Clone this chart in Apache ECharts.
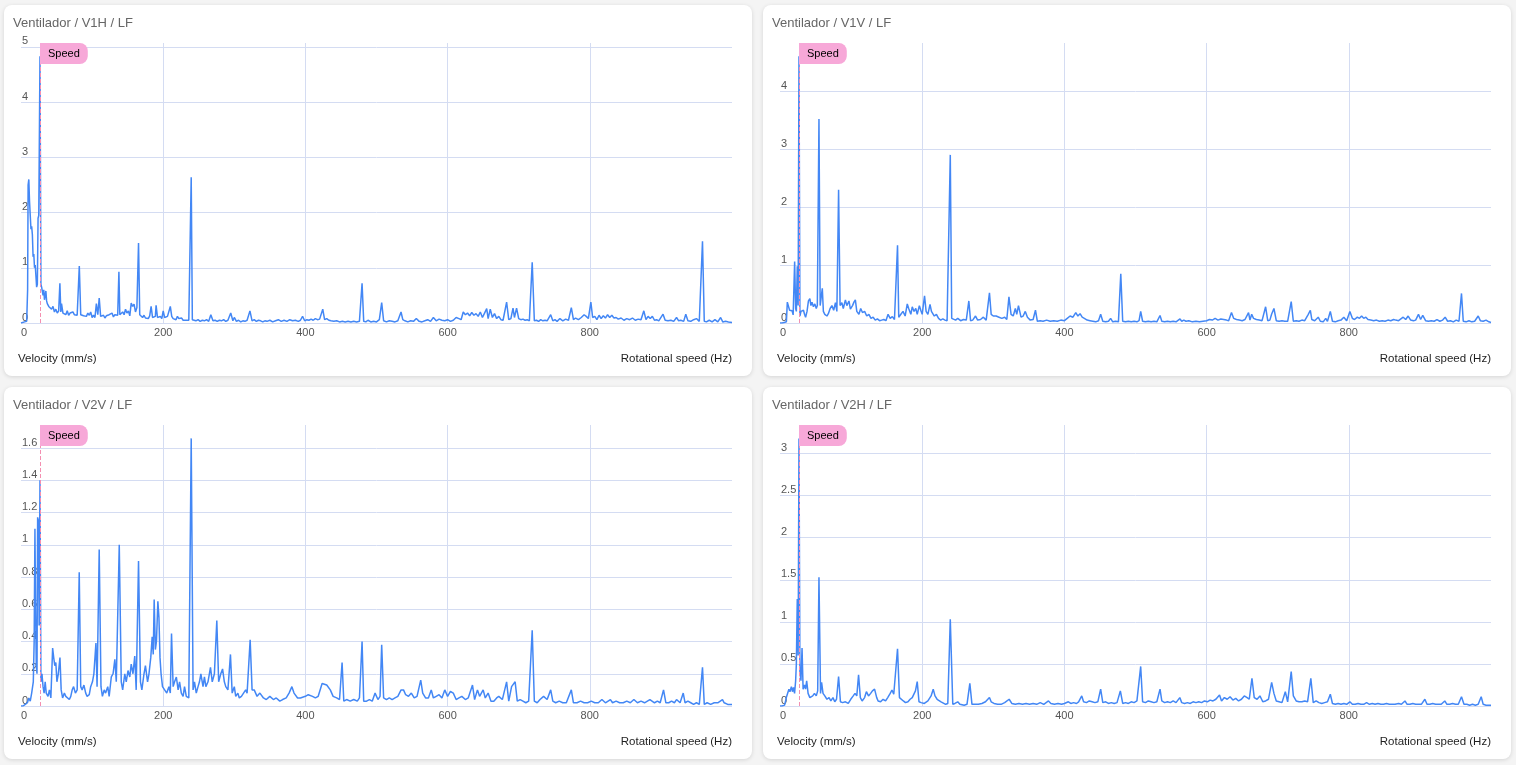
<!DOCTYPE html>
<html>
<head>
    <meta http-equiv="Content-Type" content="text/html; charset=utf-8"/>
    <title>Ventilador LF</title>
    <script type="text/javascript" src="https://cdn.jsdelivr.net/npm/echarts@6.0.0/dist/echarts.min.js"></script>
    <style>
        html, body {
            margin: 0;
            padding: 0;
            background: #f4f4f4;
            width: 1516px;
            height: 765px;
            overflow: hidden;
        }

        .card {
            position: absolute;
            width: 748px;
            background: #fff;
            border-radius: 8px;
            box-shadow: 0 1px 4px rgba(0, 0, 0, 0.13);
        }

        .card .chart {
            width: 100%;
            height: 100%;
        }
    </style>
</head>

<body>
<div class="card" style="left:4px;top:5px;height:371px;"><div class="chart" id="c1"></div></div>
<div class="card" style="left:763px;top:5px;height:371px;"><div class="chart" id="c2"></div></div>
<div class="card" style="left:4px;top:387px;height:372px;"><div class="chart" id="c3"></div></div>
<div class="card" style="left:763px;top:387px;height:372px;"><div class="chart" id="c4"></div></div>

<script type="text/javascript">
    // chart data: [Hz, mm/s]
    var panelTitles = ['Ventilador / V1H / LF', 'Ventilador / V1V / LF', 'Ventilador / V2V / LF', 'Ventilador / V2H / LF'];
    var yIntervals = [1, 1, 0.2, 0.5];
    var speedHz = 26.7;
    var xTicks = [0, 200, 400, 600, 800, 1000];

    var v1h = [[0,0],[2,0.01],[5,0.02],[8,0.03],[9.3,0.6],[10,2.5],[11,2.6],[12,2.2],[13,1.95],[14,1.7],[15,1.75],[16,1.6],[17,1.2],[18,1.25],[19,1.0],[20,1.05],[21,0.85],[22,0.65],[23,0.7],[24,1.9],[25,1.95],[26.7,4.83],[28,0.7],[29,0.65],[30,0.68],[31,0.5],[32,0.6],[33,0.42],[34,0.5],[35,0.58],[36,0.4],[37,0.35],[39,0.3],[41,0.28],[43,0.25],[45,0.3],[47,0.2],[49,0.25],[51,0.18],[53,0.22],[54.7,0.72],[56,0.2],[57,0.35],[59,0.18],[61,0.2],[63,0.15],[65,0.22],[67,0.14],[69,0.18],[71,0.16],[73,0.2],[75,0.15],[77,0.17],[79,0.14],[82,1.03],[84,0.15],[86,0.18],[88,0.13],[90,0.16],[92,0.12],[94,0.18],[96,0.14],[98,0.2],[100,0.1],[102,0.14],[104,0.1],[106,0.35],[108,0.15],[110,0.45],[112,0.12],[114,0.1],[116,0.14],[118,0.09],[120,0.13],[122,0.1],[124,0.15],[126,0.12],[128,0.18],[130,0.11],[132,0.15],[134,0.12],[136,0.14],[137.7,0.93],[139,0.15],[141,0.12],[143,0.2],[145,0.15],[147,0.25],[149,0.18],[151,0.22],[153,0.13],[155,0.36],[157,0.3],[159,0.34],[161,0.2],[163,0.28],[165.3,1.45],[167,0.15],[169,0.12],[171,0.1],[173,0.14],[175,0.09],[177,0.12],[179,0.08],[181,0.13],[183,0.3],[185,0.1],[187,0.08],[189,0.12],[190,0.32],[192,0.1],[194,0.09],[196,0.12],[198,0.08],[200,0.22],[202,0.1],[204,0.07],[206,0.12],[208,0.15],[210,0.3],[212,0.12],[214,0.08],[216,0.1],[218,0.06],[220,0.12],[222,0.08],[224,0.06],[226,0.09],[228,0.05],[230,0.07],[232,0.05],[234,0.06],[236,0.05],[239.4,2.64],[241,0.06],[243,0.08],[246,0.04],[249,0.06],[252,0.03],[255,0.05],[258,0.04],[261,0.06],[264,0.03],[267,0.15],[270,0.04],[273,0.05],[276,0.03],[279,0.05],[282,0.04],[285,0.06],[288,0.03],[291,0.05],[295,0.18],[298,0.04],[300,0.1],[303,0.03],[306,0.05],[309,0.02],[312,0.04],[315,0.03],[318,0.05],[322,0.22],[325,0.04],[328,0.06],[331,0.03],[334,0.05],[337,0.04],[340,0.02],[343,0.04],[346,0.03],[350,0.05],[354,0.02],[358,0.04],[362,0.06],[366,0.03],[370,0.05],[374,0.03],[378,0.06],[382,0.04],[386,0.05],[390,0.03],[393,0.05],[396,0.12],[399,0.04],[402,0.06],[405,0.05],[408,0.07],[411,0.05],[414,0.08],[417,0.06],[420,0.07],[424.4,0.25],[427,0.06],[430,0.08],[433,0.05],[436,0.04],[440,0.03],[444,0.04],[448,0.02],[452,0.03],[456,0.02],[460,0.03],[464,0.02],[468,0.03],[472,0.02],[476,0.03],[479.7,0.72],[482,0.03],[485,0.02],[488,0.05],[492,0.02],[496,0.03],[500,0.02],[504,0.06],[507.3,0.37],[510,0.04],[514,0.02],[518,0.04],[522,0.03],[526,0.02],[530,0.04],[534.5,0.2],[537,0.06],[540,0.04],[544,0.02],[548,0.04],[552,0.03],[556,0.08],[560,0.03],[564,0.02],[568,0.04],[572,0.06],[576,0.03],[580,0.1],[584,0.04],[588,0.07],[592,0.05],[596,0.04],[600,0.06],[604,0.03],[608,0.05],[612,0.1],[616,0.08],[619,0.06],[622,0.2],[625,0.15],[628,0.18],[631,0.13],[634,0.19],[637,0.14],[640,0.17],[643,0.12],[646,0.2],[649,0.1],[652,0.18],[655,0.26],[657,0.08],[660,0.25],[663,0.1],[666,0.17],[669,0.08],[672,0.12],[675,0.06],[678,0.05],[683,0.38],[686,0.06],[689,0.08],[692,0.27],[694,0.1],[697,0.27],[700,0.08],[703,0.06],[706,0.07],[709,0.05],[712,0.06],[715,0.04],[719,1.1],[722,0.04],[725,0.05],[728,0.03],[731,0.06],[734,0.04],[737,0.05],[740,0.04],[745,0.15],[748,0.04],[751,0.06],[754,0.03],[758,0.08],[762,0.04],[766,0.07],[770,0.05],[774,0.28],[777,0.06],[780,0.09],[784,0.06],[788,0.1],[792,0.15],[795,0.12],[798,0.08],[801.5,0.38],[804,0.1],[807,0.12],[810,0.06],[813,0.14],[816,0.08],[819,0.13],[822,0.09],[825,0.15],[828,0.1],[831,0.14],[834,0.09],[837,0.1],[840,0.07],[844,0.09],[848,0.05],[852,0.08],[856,0.06],[860,0.09],[864,0.05],[868,0.07],[872,0.06],[876,0.22],[879,0.06],[882,0.12],[885,0.08],[888,0.12],[891,0.05],[894,0.06],[897,0.04],[903,0.16],[906,0.05],[910,0.04],[914,0.05],[918,0.03],[922,0.1],[925,0.04],[928,0.05],[932,0.03],[935,0.16],[938,0.04],[942,0.03],[946,0.06],[950,0.08],[954,0.03],[958.5,1.48],[961,0.03],[964,0.02],[968,0.05],[972,0.02],[976,0.06],[980,0.02],[984,0.1],[987,0.02],[991,0.03],[995,0.02],[1000,0.01]];

    var v1v = [[0,0],[3,0],[6,0.01],[9,0.02],[10.3,0.36],[12,0.33],[13.5,0.22],[15,0.2],[17,0.21],[18.5,0.14],[20.6,1.06],[22,0.25],[23,0.2],[24.3,0.98],[25.5,0.3],[26.7,4.6],[28,0.12],[29.5,0.2],[31,0.17],[33,0.22],[34.5,0.15],[36,0.1],[38,0.2],[40,0.38],[42,0.42],[43.5,0.3],[45,0.36],[47,0.28],[49,0.33],[51,0.25],[52.5,0.3],[54.8,3.52],[56.5,0.3],[58,0.45],[59.5,0.6],[61,0.2],[63,0.15],[66,0.12],[68,0.16],[70.5,0.25],[73,0.3],[75.5,0.22],[78,0.35],[80,0.2],[82.4,2.3],[84.5,0.3],[87,0.35],[89,0.25],[92,0.4],[94,0.3],[97,0.38],[99,0.24],[102,0.3],[104,0.36],[106,0.4],[108,0.2],[111,0.15],[113.5,0.25],[116,0.18],[119,0.2],[122,0.12],[125,0.15],[128,0.08],[131,0.1],[134,0.05],[137,0.07],[140,0.04],[143,0.05],[146,0.06],[149,0.04],[152,0.15],[155,0.08],[158,0.11],[161,0.06],[163,0.08],[165.3,1.34],[167,0.1],[170,0.15],[173,0.2],[176,0.12],[179,0.33],[181,0.25],[184,0.15],[186,0.28],[188.5,0.2],[191,0.25],[193,0.15],[196,0.3],[198,0.22],[200,0.15],[203.3,0.47],[205.5,0.2],[208,0.15],[211,0.32],[213,0.2],[217,0.12],[220,0.15],[223,0.08],[226,0.05],[229,0.07],[232,0.05],[235,0.04],[237,0.06],[239.5,2.9],[241.5,0.08],[244,0.1],[247,0.05],[250,0.08],[254,0.04],[258,0.06],[262,0.05],[265.6,0.38],[268,0.04],[271,0.05],[275,0.12],[278,0.05],[282,0.06],[286,0.1],[290,0.05],[294.6,0.52],[297,0.15],[300,0.12],[304,0.12],[308,0.1],[312,0.08],[316,0.1],[319,0.06],[322,0.45],[325,0.15],[328,0.12],[331,0.25],[333,0.15],[335.4,0.3],[339,0.1],[342,0.12],[345,0.2],[348,0.1],[352,0.05],[356,0.06],[359.3,0.22],[362,0.03],[366,0.04],[370,0.03],[375,0.05],[380,0.03],[385,0.04],[390,0.03],[395,0.05],[400,0.04],[404,0.08],[408,0.12],[412,0.1],[416,0.18],[419,0.12],[422,0.16],[425,0.1],[428,0.08],[432,0.05],[436,0.04],[440,0.03],[444,0.02],[448,0.04],[451,0.15],[454,0.03],[458,0.02],[462,0.03],[465,0.08],[468,0.02],[472,0.03],[476,0.02],[479.3,0.85],[482,0.03],[486,0.02],[490,0.03],[494,0.02],[498,0.03],[502,0.02],[505,0.04],[507.3,0.2],[510,0.03],[514,0.02],[518,0.03],[522,0.02],[526,0.03],[530,0.02],[534.5,0.13],[537,0.03],[541,0.02],[545,0.03],[549,0.02],[553,0.03],[557,0.02],[562.6,0.07],[565,0.03],[568,0.05],[571,0.03],[575,0.04],[580,0.02],[585,0.03],[590,0.02],[595,0.03],[600,0.04],[604,0.06],[608,0.05],[612,0.08],[616,0.05],[620,0.07],[624,0.06],[628,0.05],[631,0.04],[635,0.18],[638,0.08],[642,0.06],[646,0.05],[650,0.04],[654,0.06],[659,0.18],[661,0.05],[663.4,0.15],[666,0.08],[670,0.06],[674,0.05],[678,0.04],[683,0.28],[686,0.04],[689,0.05],[691.4,0.15],[694.7,0.25],[698,0.04],[702,0.03],[706,0.04],[710,0.03],[714,0.03],[719,0.37],[722,0.03],[726,0.04],[730,0.03],[734,0.05],[738,0.04],[743,0.15],[745.9,0.22],[748,0.06],[752,0.04],[757,0.1],[760,0.03],[764,0.02],[767.5,0.08],[770,0.03],[774,0.2],[777,0.03],[781,0.02],[785,0.04],[789,0.05],[793,0.1],[797,0.04],[801.5,0.2],[805,0.08],[808,0.06],[812,0.1],[815,0.08],[818,0.12],[821,0.08],[824,0.1],[827,0.06],[831,0.05],[835,0.04],[839,0.05],[843,0.03],[847,0.04],[851,0.03],[855,0.05],[859,0.04],[863,0.06],[866,0.05],[870,0.04],[876.5,0.1],[880,0.06],[883.5,0.12],[887,0.05],[891,0.04],[894,0.05],[898,0.15],[901,0.06],[904,0.13],[908,0.04],[912,0.03],[916,0.04],[920,0.03],[924,0.06],[928,0.03],[932,0.05],[935.5,0.1],[939,0.03],[943,0.04],[947,0.02],[951,0.05],[955,0.03],[958.5,0.51],[961,0.03],[965,0.02],[969,0.04],[973,0.02],[977,0.03],[982,0.12],[985,0.04],[989,0.03],[993,0.05],[997,0.02],[1000,0.01]];

    var v2v = [[0,0],[3,0],[6,0.01],[9,0.02],[11,0.05],[13,0.03],[15,0.08],[17.3,0.15],[18.5,0.4],[19.6,1.1],[20.5,0.6],[21.5,0.25],[22.5,0.2],[23.4,1.17],[24.5,1.15],[25.5,0.5],[26.7,1.4],[28,0.15],[29.5,0.2],[31,0.12],[32.5,0.08],[34,0.15],[35.5,0.08],[38,0.06],[40,0.1],[42,0.05],[44.5,0.36],[46,0.3],[47.5,0.25],[49,0.27],[50.5,0.15],[52.5,0.2],[54.8,0.3],[56.5,0.1],[58.5,0.05],[61,0.08],[63,0.06],[65,0.05],[68,0.04],[70,0.06],[72,0.1],[74,0.12],[76.5,0.08],[79,0.1],[81.9,0.83],[84,0.12],[86,0.1],[88.5,0.13],[91,0.08],[93,0.06],[96,0.07],[98,0.12],[100.5,0.15],[102.5,0.2],[105.4,0.39],[107,0.12],[110,0.97],[112.5,0.12],[114.5,0.06],[117,0.1],[119,0.08],[122,0.12],[124,0.06],[127,0.18],[129.5,0.2],[132,0.29],[134,0.15],[138.2,1.0],[141,0.15],[143,0.1],[146,0.2],[148,0.15],[150.5,0.22],[153,0.18],[155,0.26],[157.5,0.2],[160,0.31],[162,0.1],[165.3,0.9],[168,0.15],[170,0.1],[173,0.2],[175,0.25],[178,0.15],[180,0.2],[182.5,0.3],[184.5,0.43],[186,0.32],[187.3,0.66],[189,0.35],[190.5,0.4],[192.5,0.65],[194,0.55],[195.5,0.3],[197,0.2],[199,0.12],[202,0.1],[205,0.08],[208,0.12],[210,0.08],[211.7,0.45],[214,0.12],[216,0.15],[218.5,0.18],[221,0.1],[223,0.15],[225.5,0.08],[228,0.06],[230,0.12],[232.5,0.06],[236,0.05],[239.4,1.66],[242,0.1],[244,0.15],[246.5,0.08],[249,0.12],[251,0.15],[253,0.2],[256,0.12],[258,0.18],[260,0.12],[263,0.15],[266.5,0.24],[269,0.15],[272,0.2],[275.4,0.53],[278,0.15],[281,0.2],[283.5,0.23],[286,0.15],[288,0.12],[291,0.1],[294.6,0.32],[297,0.08],[300,0.12],[302,0.06],[305,0.08],[307,0.05],[310,0.06],[313,0.08],[316,0.1],[318,0.08],[322.3,0.41],[325,0.1],[328,0.1],[332,0.06],[336,0.08],[341,0.05],[345,0.04],[350,0.06],[355,0.04],[359,0.05],[364,0.03],[368,0.04],[373,0.05],[377,0.08],[381,0.12],[384,0.08],[389,0.05],[393,0.05],[400,0.06],[404,0.07],[410,0.06],[414,0.05],[418,0.06],[423.5,0.14],[426,0.13],[430,0.13],[435,0.1],[439,0.06],[444,0.05],[448,0.04],[451.6,0.27],[454,0.03],[458,0.04],[463,0.03],[468,0.04],[473,0.03],[476,0.05],[479.7,0.4],[482,0.03],[486,0.03],[490,0.04],[494,0.03],[498,0.08],[502,0.04],[505,0.06],[507.3,0.38],[510,0.05],[514,0.04],[518,0.05],[522,0.04],[526,0.05],[530,0.06],[534.6,0.1],[538,0.1],[541,0.07],[545,0.06],[549,0.08],[553,0.05],[557,0.06],[562.2,0.16],[565,0.08],[569,0.05],[573,0.05],[577,0.1],[580,0.05],[584,0.06],[588,0.07],[592,0.05],[596,0.1],[600,0.06],[604,0.09],[608,0.08],[612,0.04],[616,0.05],[620,0.06],[625,0.04],[629,0.05],[635,0.13],[638,0.04],[642,0.1],[645,0.06],[650,0.1],[653,0.05],[657,0.08],[661,0.03],[665,0.03],[669,0.05],[672,0.06],[677,0.04],[683,0.15],[686,0.03],[690,0.12],[695,0.15],[698,0.03],[702,0.04],[706,0.03],[710,0.02],[714,0.03],[719,0.47],[722,0.03],[726,0.02],[730,0.04],[735,0.06],[740,0.04],[745,0.1],[748,0.03],[752,0.02],[757,0.03],[762,0.02],[767,0.02],[774,0.1],[777,0.02],[782,0.02],[787,0.03],[792,0.02],[797,0.02],[802,0.03],[807,0.02],[812,0.02],[817,0.04],[822,0.02],[829,0.04],[832,0.02],[837,0.03],[842,0.02],[847,0.02],[852,0.03],[857,0.02],[862,0.04],[867,0.02],[872,0.03],[877,0.02],[884.5,0.04],[887,0.03],[891,0.02],[895,0.03],[899,0.02],[903.7,0.1],[907,0.02],[911,0.02],[915,0.03],[919,0.02],[922,0.04],[927,0.02],[931.4,0.08],[934,0.02],[938,0.03],[942,0.02],[946,0.01],[950,0.02],[954,0.01],[958.5,0.24],[961,0.01],[965,0.02],[970,0.01],[975,0.02],[980,0.02],[986.6,0.04],[989,0.02],[994,0.01],[1000,0.01]];

    var v2h = [[0,0],[3,0],[6.5,0.01],[8.9,0.1],[10.5,0.08],[12.5,0.2],[14,0.17],[16,0.23],[17.5,0.17],[19,0.22],[20.5,0.15],[22,0.3],[23,0.5],[24.3,1.27],[25.5,0.6],[26.7,3.18],[28,0.4],[29.5,0.3],[31,0.69],[32.5,0.2],[34.5,0.25],[36,0.2],[37.5,0.3],[39.5,0.15],[42,0.1],[44,0.08],[46,0.12],[48.5,0.15],[51,0.12],[53,0.18],[54.8,1.53],[57,0.15],[58.5,0.28],[60.5,0.15],[63,0.12],[66,0.08],[69,0.1],[71.5,0.06],[74.5,0.1],[77,0.05],[79.5,0.08],[82.4,0.35],[85,0.05],[88,0.04],[92,0.05],[96,0.03],[99.5,0.08],[103,0.12],[105.5,0.15],[108,0.12],[110.5,0.37],[113,0.1],[115.5,0.06],[119,0.1],[121.5,0.17],[124.5,0.12],[127.5,0.15],[130,0.18],[133,0.2],[136,0.1],[138,0.06],[141.5,0.05],[145,0.08],[148.5,0.06],[151.5,0.1],[155,0.15],[157.5,0.19],[160,0.14],[162.5,0.16],[165.3,0.68],[168,0.1],[170.5,0.08],[173.5,0.06],[176.5,0.04],[180,0.05],[183,0.08],[186,0.1],[188.5,0.12],[190.5,0.18],[193,0.29],[195.5,0.05],[198.5,0.04],[203,0.03],[208,0.06],[212.5,0.12],[215.5,0.2],[218,0.12],[221,0.08],[223.5,0.1],[226.5,0.05],[229,0.03],[233,0.02],[236,0.03],[239.5,1.03],[243,0.02],[246,0.03],[250,0.05],[253,0.02],[259,0.01],[263,0.02],[267,0.27],[270,0.02],[274,0.02],[279,0.02],[284,0.03],[289,0.05],[294.6,0.1],[297,0.05],[301,0.03],[306,0.02],[311,0.02],[316,0.04],[322.3,0.08],[326,0.03],[331,0.02],[336,0.03],[341,0.02],[346,0.03],[351,0.02],[356,0.03],[361,0.02],[366,0.04],[371,0.02],[377.6,0.06],[381,0.03],[386,0.02],[391,0.03],[396,0.02],[400,0.03],[405.6,0.05],[409,0.03],[413,0.04],[417,0.03],[420,0.05],[424.4,0.12],[427,0.05],[431,0.04],[435,0.06],[439,0.05],[443,0.04],[447,0.05],[451,0.2],[454,0.04],[458,0.05],[462,0.03],[466,0.04],[470,0.03],[474,0.04],[478.7,0.18],[482,0.03],[486,0.04],[490,0.03],[494,0.05],[498,0.04],[502,0.06],[507.3,0.47],[510,0.05],[514,0.04],[518,0.06],[522,0.05],[526,0.04],[530,0.05],[534.5,0.2],[537,0.06],[541,0.04],[545,0.05],[549,0.04],[553,0.06],[557,0.04],[562.3,0.1],[565,0.04],[569,0.03],[573,0.04],[577,0.03],[581,0.05],[585,0.04],[589,0.05],[593,0.04],[597,0.06],[601,0.05],[605,0.07],[609,0.06],[613,0.08],[618.2,0.13],[621,0.06],[625,0.1],[629,0.08],[633,0.11],[637,0.07],[641,0.09],[645,0.06],[649,0.08],[653,0.12],[657,0.1],[660,0.08],[663.8,0.33],[667,0.1],[671,0.08],[675,0.12],[679,0.05],[683,0.06],[687,0.08],[691.5,0.28],[694.7,0.15],[698,0.06],[702,0.05],[706,0.04],[710.7,0.17],[714,0.05],[719,0.41],[722,0.12],[726,0.06],[730,0.05],[734,0.05],[738,0.06],[742,0.05],[746.6,0.33],[750,0.04],[754,0.06],[758,0.04],[762,0.03],[766,0.04],[770,0.05],[774,0.14],[777,0.03],[781,0.02],[785,0.03],[789,0.02],[793,0.03],[797,0.02],[801.5,0.05],[805,0.02],[809,0.02],[813,0.03],[817,0.02],[821,0.02],[825,0.04],[829,0.02],[833,0.03],[837,0.02],[841,0.03],[845,0.02],[849,0.02],[853,0.03],[857,0.02],[861,0.02],[865,0.02],[870,0.03],[874,0.02],[879,0.06],[882,0.02],[886,0.02],[890,0.03],[894,0.02],[898,0.02],[902,0.02],[907,0.08],[910,0.02],[914,0.02],[918,0.03],[922,0.02],[926,0.02],[930,0.02],[935,0.06],[938,0.02],[942,0.02],[946,0.03],[950,0.02],[954,0.02],[958.5,0.11],[962,0.02],[966,0.02],[970,0.01],[974,0.02],[978,0.01],[982,0.02],[986.2,0.11],[989,0.02],[993,0.01],[997,0.01],[1000,0.01]];

    var spectra = [v1h, v1v, v2v, v2h];

    var FONT = '"Liberation Sans", Arial, sans-serif';
    var GRID_COLOR = '#d4dcf2';

    function buildOption(title, data, yInterval) {
        return {
            animation: false,
            textStyle: {fontFamily: FONT},
            title: {
                text: title,
                left: 9,
                top: 12,
                padding: 0,
                textStyle: {fontSize: 13, fontWeight: 'normal', color: '#666', fontFamily: FONT}
            },
            grid: {left: 17, right: 20, top: 38, bottom: 53},
            graphic: [
                {
                    type: 'text', left: 14, bottom: 11, silent: true,
                    style: {text: 'Velocity (mm/s)', fill: '#1f1f1f', font: '11.5px ' + FONT}
                },
                {
                    type: 'text', right: 20, bottom: 11, silent: true,
                    style: {text: 'Rotational speed (Hz)', fill: '#1f1f1f', font: '11.5px ' + FONT}
                }
            ],
            xAxis: {
                type: 'value',
                min: xTicks[0],
                max: xTicks[xTicks.length - 1],
                interval: xTicks[1] - xTicks[0],
                axisLine: {show: false},
                axisTick: {show: false},
                axisLabel: {
                    color: '#555', fontSize: 11, margin: 4,
                    showMaxLabel: false, alignMinLabel: 'left'
                },
                splitLine: {
                    show: true, showMinLine: false, showMaxLine: false,
                    lineStyle: {color: GRID_COLOR, width: 1}
                }
            },
            yAxis: {
                type: 'value',
                min: 0,
                max: function (v) { return v.max * 1.05; },
                interval: yInterval,
                axisLine: {show: false},
                axisTick: {show: false},
                axisLabel: {
                    inside: true, verticalAlign: 'bottom', margin: 1,
                    color: '#555', fontSize: 11, showMaxLabel: false
                },
                splitLine: {
                    show: true, showMaxLine: false,
                    lineStyle: {color: GRID_COLOR, width: 1}
                }
            },
            series: [{
                type: 'line',
                data: data,
                symbol: 'none',
                showSymbol: false,
                lineStyle: {color: '#4387f5', width: 1.5},
                markLine: {
                    silent: true,
                    symbol: ['none', 'none'],
                    animation: false,
                    lineStyle: {color: '#f48fb1', type: 'dashed', width: 1},
                    label: {
                        show: true,
                        formatter: 'Speed',
                        position: 'end',
                        align: 'left',
                        verticalAlign: 'top',
                        distance: 0,
                        color: '#000',
                        fontSize: 11,
                        fontFamily: FONT,
                        backgroundColor: '#f7a8d8',
                        padding: [5, 8, 5, 8],
                        borderRadius: [0, 8, 8, 0]
                    },
                    data: [{xAxis: speedHz}]
                }
            }]
        };
    }

    var ids = ['c1', 'c2', 'c3', 'c4'];
    for (var i = 0; i < ids.length; i++) {
        var chart = echarts.init(document.getElementById(ids[i]));
        chart.setOption(buildOption(panelTitles[i], spectra[i], yIntervals[i]));
    }
</script>
</body>
</html>
